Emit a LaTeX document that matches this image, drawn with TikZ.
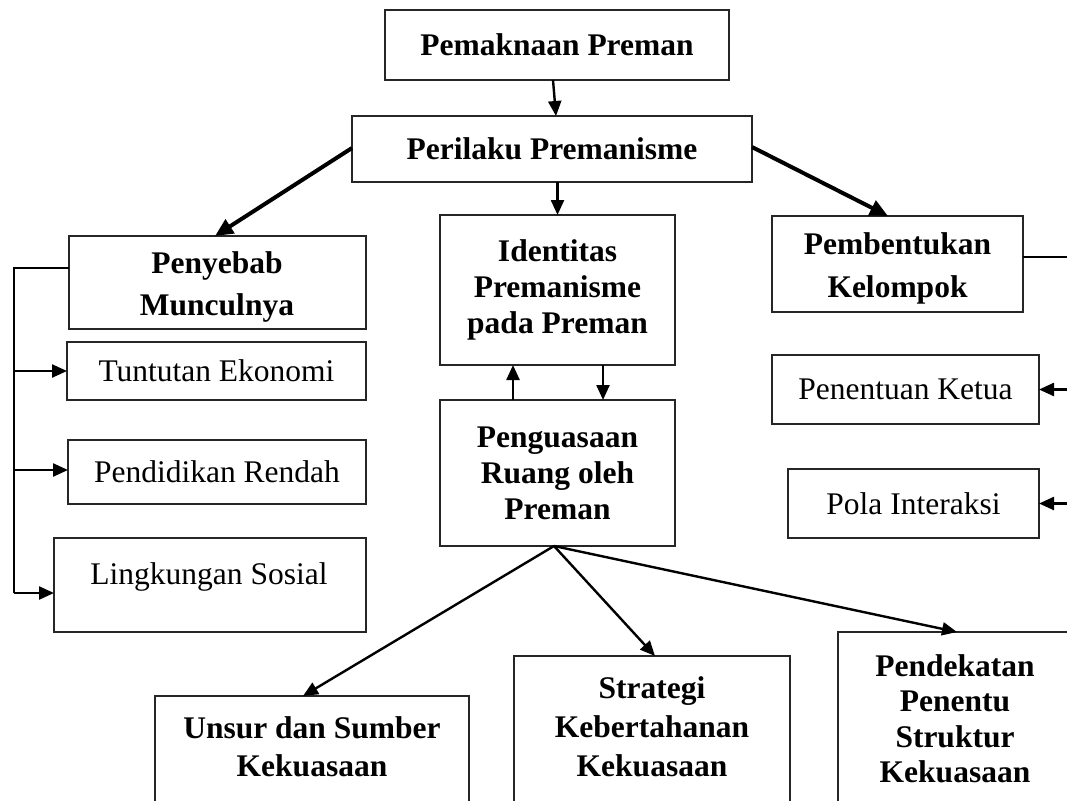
\documentclass[tikz,border=0pt]{standalone}
\usepackage{fontspec}
\setmainfont{Liberation Serif}
\usetikzlibrary{arrows.meta,calc}
\tikzset{
  box/.style={draw=black!85, line width=1.3pt, inner sep=0pt, outer sep=0pt, align=center, anchor=north west},
  bt/.style={font=\bfseries\fontsize{31.5}{36}\selectfont},
  rt/.style={font=\fontsize{31.5}{36}\selectfont},
  txt/.style={inner sep=0pt, align=center},
  conn/.style={line width=2.4pt, -{Triangle[length=15pt,width=13pt]}},
  thickconn/.style={line width=4pt, -{Triangle[length=18pt,width=16pt]}},
  plain/.style={line width=2.4pt},
}
\begin{document}
\begin{tikzpicture}[x=1pt,y=-1pt]
\useasboundingbox (0,0) rectangle (1067,800);
\clip (0,0) rectangle (1067,800);
% boxes
\node[box,bt,minimum width=344pt,minimum height=70pt] (pm) at (385,10) {Pemaknaan Preman};
\node[box,bt,minimum width=400pt,minimum height=66pt] (pp) at (352,116) {Perilaku Premanisme};
\node[box,bt,minimum width=235pt,minimum height=150pt] (id) at (440,215) {Identitas\\Premanisme\\pada Preman};
\node[box,bt,minimum width=235pt,minimum height=146pt] (pg) at (440,400) {Penguasaan\\Ruang oleh\\Preman};
\node[box,minimum width=297pt,minimum height=93pt] (py) at (69,236) {};
\node[txt,font=\bfseries\fontsize{31.5}{42}\selectfont] (pyt) at (217,286.5) {Penyebab\\Munculnya};
\node[box,rt,minimum width=299pt,minimum height=58pt] (te) at (67,342) {Tuntutan Ekonomi};
\node[box,rt,minimum width=298pt,minimum height=64pt] (pr) at (68,440) {Pendidikan Rendah};
\node[box,minimum width=312pt,minimum height=94pt] (ls) at (54,538) {};
\node[txt,rt] (lst) at (209,577) {Lingkungan Sosial};
\node[box,minimum width=251pt,minimum height=96pt] (pk) at (772,216) {};
\node[txt,font=\bfseries\fontsize{31.5}{43}\selectfont] (pkt) at (897.5,268.5) {Pembentukan\\Kelompok};
\node[box,rt,minimum width=267pt,minimum height=69pt] (kt) at (772,355) {Penentuan Ketua};
\node[box,rt,minimum width=251pt,minimum height=69pt] (pi) at (788,469) {Pola Interaksi};
\node[box,minimum width=314pt,minimum height=140pt] (un) at (155,696) {};
\node[txt,font=\bfseries\fontsize{31.5}{38}\selectfont] (unt) at (312,747) {Unsur dan Sumber\\Kekuasaan};
\node[box,minimum width=276pt,minimum height=180pt] (st) at (514,656) {};
\node[txt,font=\bfseries\fontsize{31.5}{39}\selectfont] (stt) at (652,727) {Strategi\\Kebertahanan\\Kekuasaan};
\node[box,minimum width=260pt,minimum height=200pt] (pd) at (838,632) {};
\node[txt,font=\bfseries\fontsize{31.5}{35.5}\selectfont] (pdt) at (955,719) {Pendekatan\\Penentu\\Struktur\\Kekuasaan};
% connectors
\draw[conn] ([xshift=-4pt]pm.south) -- ([xshift=4pt]pp.north);
\draw[conn] (id.north |- pp.south) -- (id.north);
\draw[thickconn] ([yshift=1pt]pp.west) -- ([xshift=146pt]py.north west);
\draw[thickconn] ([yshift=2pt]pp.east) -- ([xshift=116pt]pk.north west);
\draw[conn] ([xshift=73pt]pg.north west) -- ([xshift=73pt]id.south west);
\draw[conn] ([xshift=163pt]id.south west) -- ([xshift=163pt]pg.north west);
% left bracket
\coordinate (br) at (14,268);
\coordinate (brb) at (14,593);
\draw[plain] ([yshift=14.5pt]py.west) -- (br) -- (brb);
\draw[conn] (br |- te.west) -- (te.west);
\draw[conn] ([yshift=2pt]br |- pr.west) -- ([yshift=2pt]pr.west);
\draw[conn] (brb) -- (brb -| ls.west);
% right bracket
\coordinate (rr) at (1075,257);
\draw[plain] ([yshift=7pt]pk.east) -- (rr);
\draw[conn] (rr |- kt.east) -- (kt.east);
\draw[conn] (rr |- pi.east) -- (pi.east);
% bottom
\coordinate (pgs) at ([xshift=-3.5pt]pg.south);
\draw[conn] (pgs) -- ([xshift=148pt]un.north west);
\draw[conn] (pgs) -- ([xshift=141pt]st.north west);
\draw[conn] (pgs) -- ([xshift=119pt]pd.north west);
\end{tikzpicture}
\end{document}
